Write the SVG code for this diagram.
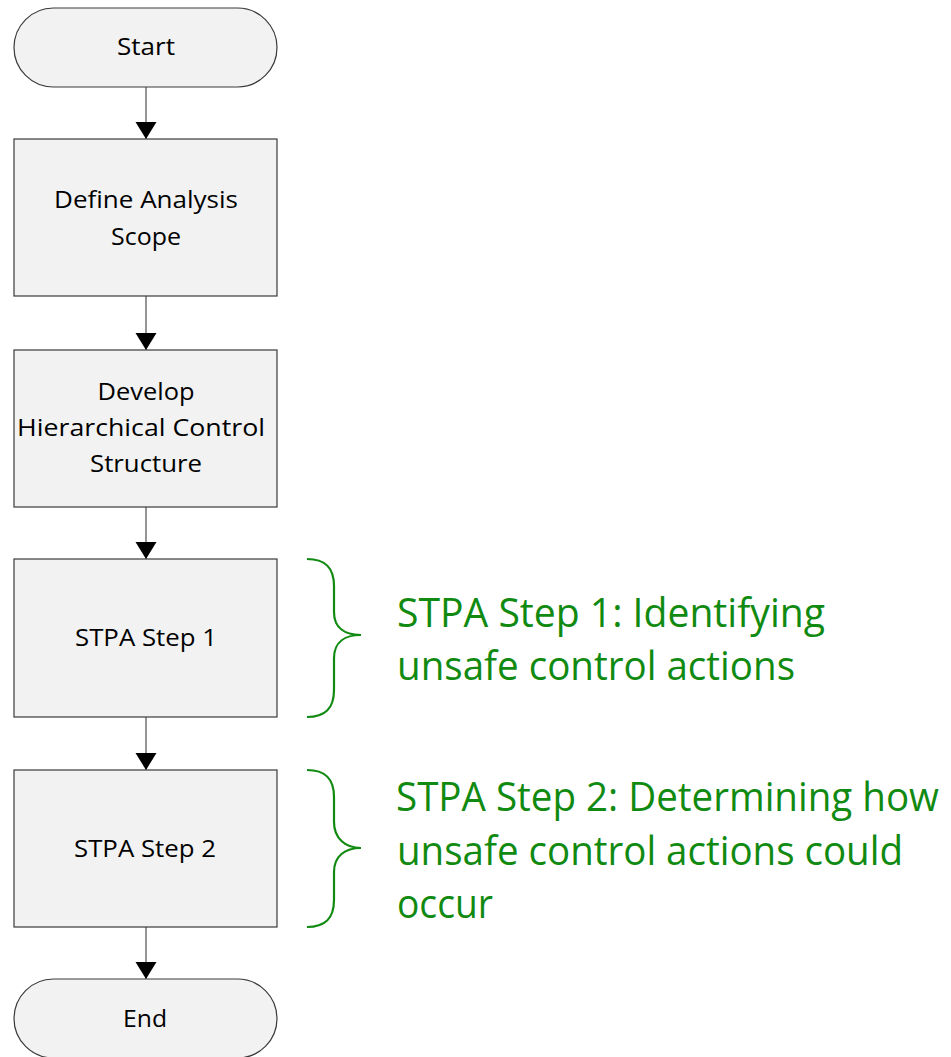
<svg xmlns="http://www.w3.org/2000/svg" width="951" height="1057" viewBox="0 0 951 1057">
  <style>
    .shape { fill: #f2f2f2; stroke: #3a3a3a; stroke-width: 1.2; }
    .lbl { font-family: "Open Sans", "Liberation Sans", sans-serif; font-size: 23.5px; fill: #000; text-anchor: middle; }
    .note { font-family: "Open Sans", "Liberation Sans", sans-serif; font-size: 40px; fill: #118a11; }
    .brace { fill: none; stroke: #118a11; stroke-width: 2.2; }
    .edge { fill: none; stroke: #7a7a7a; stroke-width: 1.6; }
  </style>
  <defs>
    <marker id="arrow" markerUnits="userSpaceOnUse" markerWidth="22" markerHeight="22" refX="17" refY="10.5" orient="auto">
      <path d="M0,0 L17,10.5 L0,21 Z" fill="#000"/>
    </marker>
  </defs>
  <rect width="951" height="1057" fill="#fff"/>

  <g id="connectors">
    <line class="edge" x1="146" y1="87" x2="146" y2="139" marker-end="url(#arrow)"/>
    <line class="edge" x1="146" y1="296" x2="146" y2="350" marker-end="url(#arrow)"/>
    <line class="edge" x1="146" y1="507" x2="146" y2="559" marker-end="url(#arrow)"/>
    <line class="edge" x1="146" y1="717" x2="146" y2="770" marker-end="url(#arrow)"/>
    <line class="edge" x1="146" y1="927" x2="146" y2="979" marker-end="url(#arrow)"/>
  </g>

  <g id="start">
    <rect class="shape" x="14" y="8" width="263" height="79" rx="39.5" ry="39.5"/>
    <text class="lbl" x="146" y="55" textLength="58" lengthAdjust="spacingAndGlyphs">Start</text>
  </g>

  <g id="define-scope">
    <rect class="shape" x="14" y="139" width="263" height="157"/>
    <text class="lbl" x="146" y="208" textLength="184" lengthAdjust="spacingAndGlyphs">Define Analysis</text>
    <text class="lbl" x="146" y="245" textLength="70" lengthAdjust="spacingAndGlyphs">Scope</text>
  </g>

  <g id="control-structure">
    <rect class="shape" x="14" y="350" width="263" height="157"/>
    <text class="lbl" x="146" y="400" textLength="97" lengthAdjust="spacingAndGlyphs">Develop</text>
    <text class="lbl" x="141" y="436" textLength="248" lengthAdjust="spacingAndGlyphs">Hierarchical Control</text>
    <text class="lbl" x="146" y="472" textLength="112" lengthAdjust="spacingAndGlyphs">Structure</text>
  </g>

  <g id="step1">
    <rect class="shape" x="14" y="559" width="263" height="158"/>
    <text class="lbl" x="146" y="646" textLength="142" lengthAdjust="spacingAndGlyphs">STPA Step 1</text>
  </g>

  <g id="step2">
    <rect class="shape" x="14" y="770" width="263" height="157"/>
    <text class="lbl" x="145" y="857" textLength="142" lengthAdjust="spacingAndGlyphs">STPA Step 2</text>
  </g>

  <g id="end">
    <rect class="shape" x="14" y="979" width="263" height="79" rx="39.5" ry="39.5"/>
    <text class="lbl" x="145" y="1027" textLength="44" lengthAdjust="spacingAndGlyphs">End</text>
  </g>

  <g id="step1-note">
    <path class="brace" d="M307,559 C325,559 334,567 334,586 L334,612 C334,628 345,635 361,635 C345,635 334,642 334,658 L334,690 C334,709 325,717 307,717"/>
    <text class="note" x="397" y="627" textLength="428" lengthAdjust="spacingAndGlyphs">STPA Step 1: Identifying</text>
    <text class="note" x="397" y="680" textLength="398" lengthAdjust="spacingAndGlyphs">unsafe control actions</text>
  </g>

  <g id="step2-note">
    <path class="brace" d="M307,770 C325,770 334,778 334,797 L334,822 C334,838 345,848 361,848 C345,848 334,856 334,872 L334,900 C334,919 325,927 307,927"/>
    <text class="note" x="396" y="811" textLength="543" lengthAdjust="spacingAndGlyphs">STPA Step 2: Determining how</text>
    <text class="note" x="397" y="865" textLength="506" lengthAdjust="spacingAndGlyphs">unsafe control actions could</text>
    <text class="note" x="397" y="918" textLength="96" lengthAdjust="spacingAndGlyphs">occur</text>
  </g>
</svg>
